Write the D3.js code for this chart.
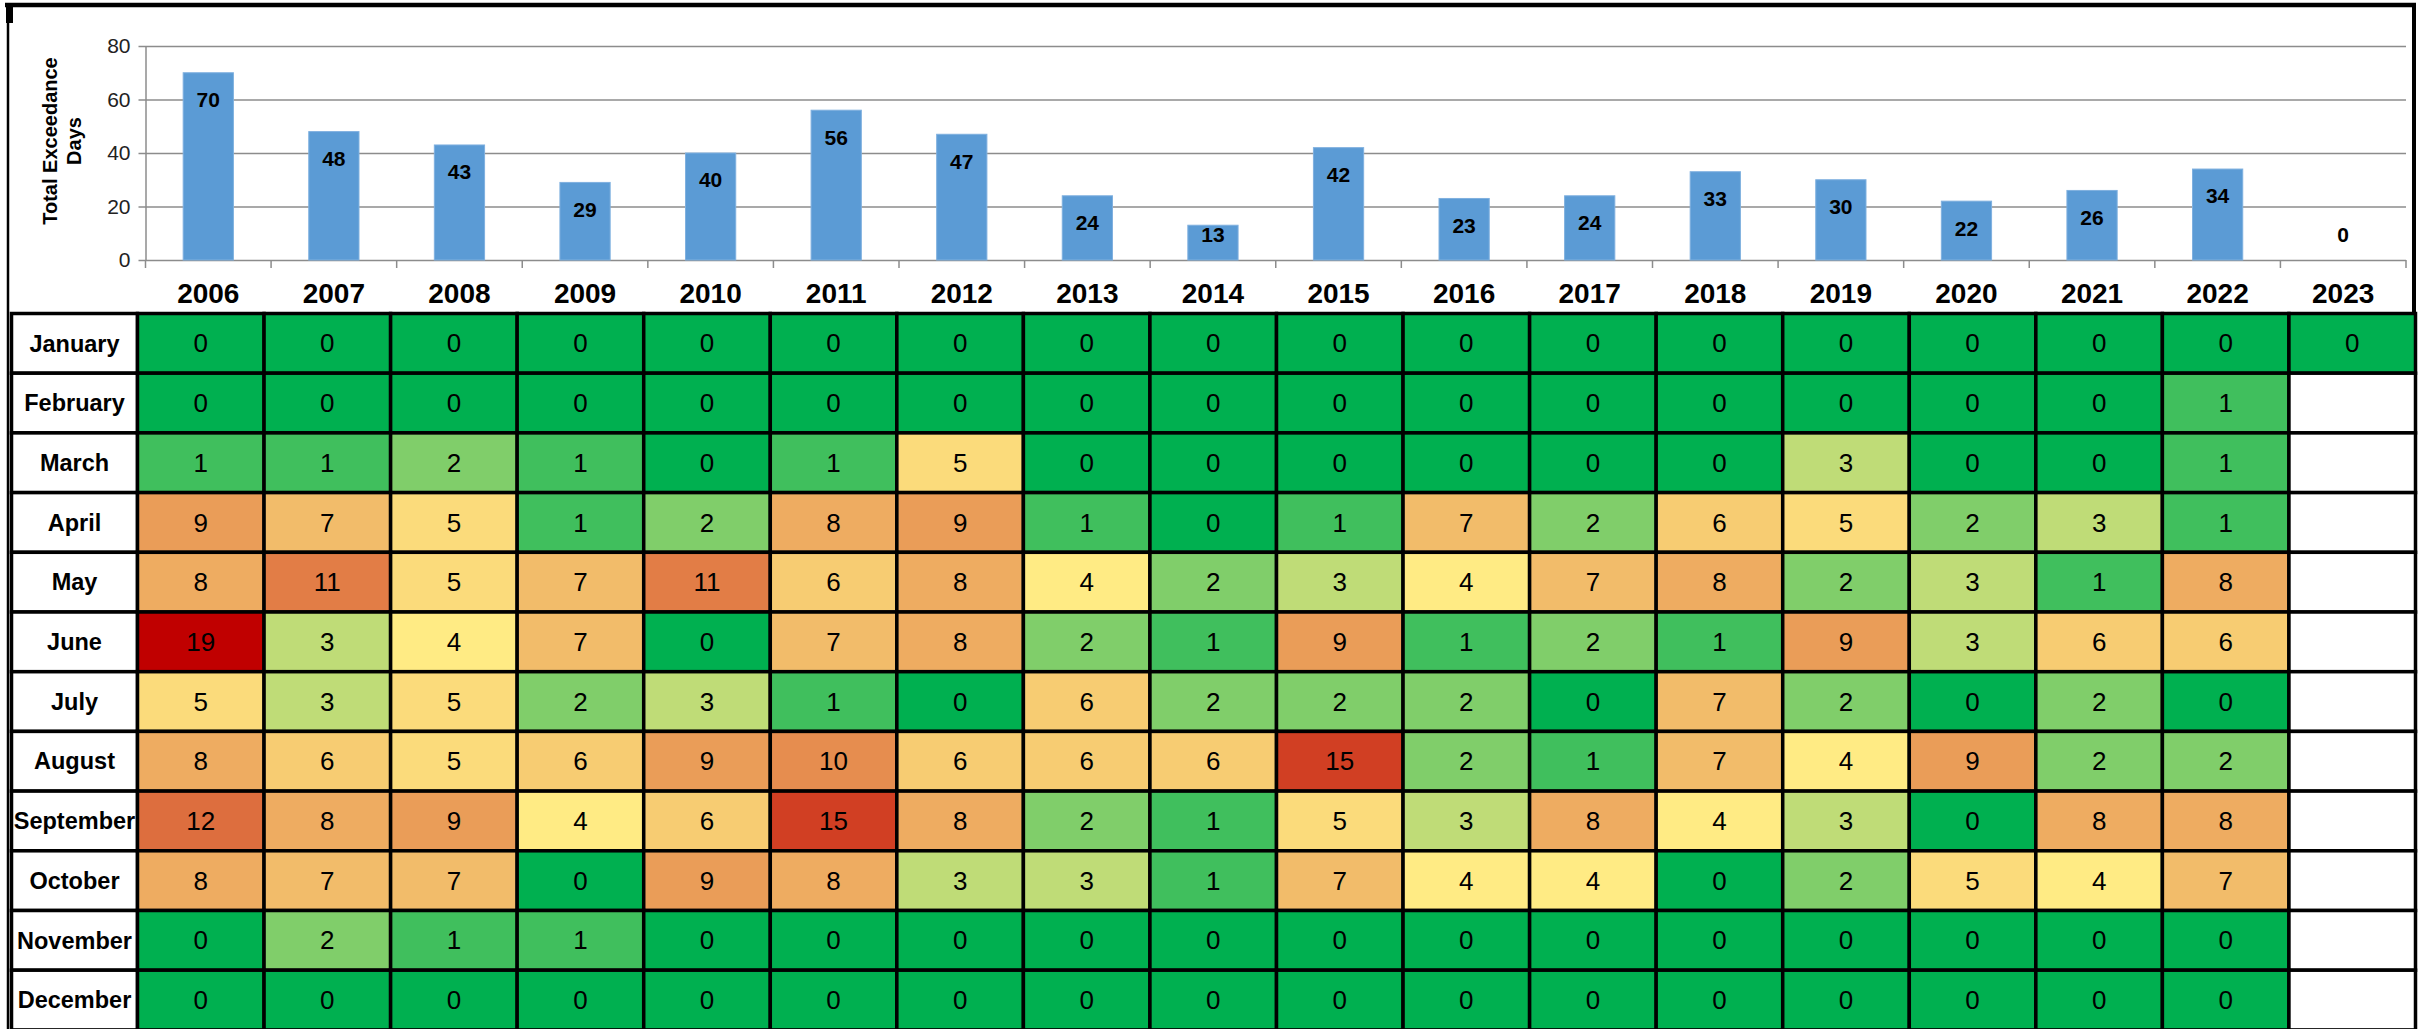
<!DOCTYPE html>
<html>
<head>
<meta charset="utf-8">
<script src="https://cdn.jsdelivr.net/npm/d3@7"></script>
<style>
  body { margin: 0; background: #fff; }
  svg { display: block; font-family: "Liberation Sans", Arial, sans-serif; }
</style>
</head>
<body>
<svg id="chart" width="2424" height="1029"></svg>
<script>
const years = ['2006', '2007', '2008', '2009', '2010', '2011', '2012', '2013', '2014',
  '2015', '2016', '2017', '2018', '2019', '2020', '2021', '2022', '2023']
const totals = [70, 48, 43, 29, 40, 56, 47, 24, 13, 42, 23, 24, 33, 30, 22, 26, 34, 0]
const yTicks = [0, 20, 40, 60, 80]

const months = ['January', 'February', 'March', 'April', 'May', 'June', 'July',
  'August', 'September', 'October', 'November', 'December']

// monthly exceedance days, one value per year (null = no data yet)
const jan = [0, 0, 0, 0, 0, 0, 0, 0, 0, 0, 0, 0, 0, 0, 0, 0, 0, 0]
const feb = [0, 0, 0, 0, 0, 0, 0, 0, 0, 0, 0, 0, 0, 0, 0, 0, 1, null]
const mar = [1, 1, 2, 1, 0, 1, 5, 0, 0, 0, 0, 0, 0, 3, 0, 0, 1, null]
const apr = [9, 7, 5, 1, 2, 8, 9, 1, 0, 1, 7, 2, 6, 5, 2, 3, 1, null]
const may = [8, 11, 5, 7, 11, 6, 8, 4, 2, 3, 4, 7, 8, 2, 3, 1, 8, null]
const jun = [19, 3, 4, 7, 0, 7, 8, 2, 1, 9, 1, 2, 1, 9, 3, 6, 6, null]
const jul = [5, 3, 5, 2, 3, 1, 0, 6, 2, 2, 2, 0, 7, 2, 0, 2, 0, null]
const aug = [8, 6, 5, 6, 9, 10, 6, 6, 6, 15, 2, 1, 7, 4, 9, 2, 2, null]
const sep = [12, 8, 9, 4, 6, 15, 8, 2, 1, 5, 3, 8, 4, 3, 0, 8, 8, null]
const oct = [8, 7, 7, 0, 9, 8, 3, 3, 1, 7, 4, 4, 0, 2, 5, 4, 7, null]
const nov = [0, 2, 1, 1, 0, 0, 0, 0, 0, 0, 0, 0, 0, 0, 0, 0, 0, null]
const dec = [0, 0, 0, 0, 0, 0, 0, 0, 0, 0, 0, 0, 0, 0, 0, 0, 0, null]
const grid = [jan, feb, mar, apr, may, jun, jul, aug, sep, oct, nov, dec]

const svg = d3.select('#chart')

// ---- bar chart on top ----
const plotLeft = 145.5
const plotRight = 2406

const x = d3.scaleBand()
  .domain(years)
  .range([plotLeft, plotRight])
  .paddingInner(0.6)
  .paddingOuter(0.3)

const y = d3.scaleLinear()
  .domain([0, 80])
  .range([260, 46])

// gridlines + y labels
const yAxis = svg.append('g')
  .attr('transform', `translate(${plotLeft},0)`)
  .call(d3.axisLeft(y).tickValues(yTicks).tickSize(-(plotRight - plotLeft)).tickSizeOuter(0).tickPadding(15))
yAxis.select('.domain').attr('stroke', '#8c8c8c').attr('stroke-width', 1.5)
yAxis.selectAll('.tick line').attr('stroke', '#8c8c8c').attr('stroke-width', 1.5).attr('x1', -7)
yAxis.selectAll('.tick text')
  .attr('font-size', 21)
  .attr('fill', '#222')
  .attr('font-family', '"Liberation Sans", Arial, sans-serif')

// category tick marks below the axis
const step = x.step()
svg.append('g')
  .selectAll('line')
  .data(d3.range(years.length + 1))
  .join('line')
  .attr('x1', i => plotLeft + i * step)
  .attr('x2', i => plotLeft + i * step)
  .attr('y1', y(0))
  .attr('y2', y(0) + 8)
  .attr('stroke', '#8c8c8c')
  .attr('stroke-width', 1.5)

svg.append('g')
  .selectAll('rect')
  .data(totals)
  .join('rect')
  .attr('x', (d, i) => x(years[i]))
  .attr('width', x.bandwidth())
  .attr('y', d => y(d))
  .attr('height', d => y(0) - y(d))
  .attr('fill', '#5b9bd5')
  .attr('stroke', '#7fb0df')
  .attr('stroke-width', 1)

// value labels (inside end, kept above the axis for short bars)
svg.append('g')
  .selectAll('text')
  .data(totals)
  .join('text')
  .attr('x', (d, i) => x(years[i]) + x.bandwidth() / 2)
  .attr('y', d => Math.min(y(d) + 27, 235))
  .attr('dy', '0.35em')
  .attr('text-anchor', 'middle')
  .attr('font-size', 21)
  .attr('font-weight', 'bold')
  .text(d => d)

// year labels
svg.append('g')
  .selectAll('text')
  .data(years)
  .join('text')
  .attr('x', d => x(d) + x.bandwidth() / 2)
  .attr('y', 293)
  .attr('dy', '0.35em')
  .attr('text-anchor', 'middle')
  .attr('font-size', 28)
  .attr('font-weight', 'bold')
  .text(d => d)

// y axis title
const yTitle = svg.append('text')
  .attr('transform', 'translate(50,141) rotate(-90)')
  .attr('text-anchor', 'middle')
  .attr('font-size', 20)
  .attr('font-weight', 'bold')
yTitle.append('tspan').attr('x', 0).attr('dy', '0.35em').text('Total Exceedance')
yTitle.append('tspan').attr('x', 0).attr('dy', '1.2em').text('Days')

// ---- monthly heatmap ----
const tableLeft = 11.5
const colStart = 137.5
const tableRight = 2415.5
const rowTop = 313.5
const rowH = 59.7

const cx = d3.scaleBand().domain(years).range([colStart, tableRight])
const ry = d3.scaleBand().domain(months).range([rowTop, rowTop + rowH * months.length])

const color = d3.scaleLinear()
  .domain([0, 4, 19])
  .range(['#00b050', '#ffeb84', '#c00000'])
  .interpolate(d3.interpolateRgb)

const cells = []
grid.forEach((row, r) => row.forEach((v, c) => cells.push({ month: months[r], year: years[c], v })))

const heat = svg.append('g')

// month label column
heat.selectAll('rect.m')
  .data(months)
  .join('rect')
  .attr('class', 'm')
  .attr('x', tableLeft)
  .attr('y', d => ry(d))
  .attr('width', colStart - tableLeft)
  .attr('height', ry.bandwidth())
  .attr('fill', '#fff')
  .attr('stroke', '#000')
  .attr('stroke-width', 3.5)

heat.selectAll('text.m')
  .data(months)
  .join('text')
  .attr('class', 'm')
  .attr('x', (tableLeft + colStart) / 2)
  .attr('y', d => ry(d) + ry.bandwidth() / 2)
  .attr('dy', '0.35em')
  .attr('text-anchor', 'middle')
  .attr('font-size', 23.5)
  .attr('font-weight', 'bold')
  .text(d => d)

heat.selectAll('rect.c')
  .data(cells)
  .join('rect')
  .attr('class', 'c')
  .attr('x', d => cx(d.year))
  .attr('y', d => ry(d.month))
  .attr('width', cx.bandwidth())
  .attr('height', ry.bandwidth())
  .attr('fill', d => d.v === null ? '#fff' : color(d.v))
  .attr('stroke', '#000')
  .attr('stroke-width', 3.5)

heat.selectAll('text.c')
  .data(cells.filter(d => d.v !== null))
  .join('text')
  .attr('class', 'c')
  .attr('x', d => cx(d.year) + cx.bandwidth() / 2)
  .attr('y', d => ry(d.month) + ry.bandwidth() / 2)
  .attr('dy', '0.35em')
  .attr('text-anchor', 'middle')
  .attr('font-size', 26)
  .attr('fill', '#000')
  .text(d => d.v)

// outer frame of the chart object
svg.append('line').attr('x1', 5).attr('x2', 2416).attr('y1', 5).attr('y2', 5)
  .attr('stroke', '#000').attr('stroke-width', 4.5)
svg.append('line').attr('x1', 8).attr('x2', 8).attr('y1', 3).attr('y2', 1029)
  .attr('stroke', '#000').attr('stroke-width', 2.5)
svg.append('rect').attr('x', 6).attr('y', 3).attr('width', 7).attr('height', 20).attr('fill', '#000')
svg.append('line').attr('x1', 2414).attr('x2', 2414).attr('y1', 3).attr('y2', 313)
  .attr('stroke', '#000').attr('stroke-width', 4)
</script>
</body>
</html>
